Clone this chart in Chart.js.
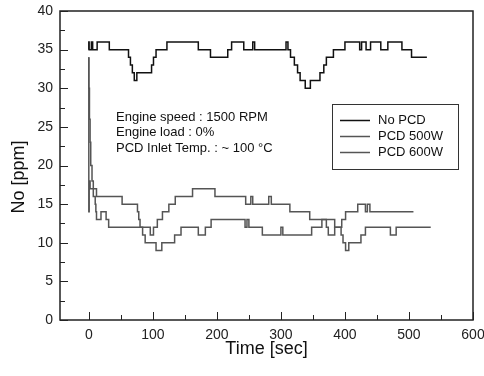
<!DOCTYPE html>
<html>
<head>
<meta charset="utf-8">
<script src="https://cdn.jsdelivr.net/npm/chart.js@4.4.0/dist/chart.umd.min.js"></script>
<style>
  html, body { margin: 0; padding: 0; background: #fff; }
  #wrap { width: 484px; height: 376px; }
</style>
</head>
<body>
<div id="wrap"><canvas id="noChart" width="484" height="376"></canvas></div>
<script>
// series (time in sec, NO in ppm, value holds until next time)
const seriesLabels = ['No PCD', 'PCD 500W', 'PCD 600W'];
const seriesColors = ['#111111', '#555555', '#555555'];

const noPcdTime = [0, 0.5, 4, 6, 13, 32, 62, 65, 68, 71, 75, 98, 101, 105, 122, 171, 190, 217, 223, 242, 256, 259,
  308, 311, 315, 321, 326, 330, 338, 346, 361, 367, 371, 382, 400, 423, 426, 433, 440, 456, 467, 489, 504, 528];
const noPcdValue = [35, 36, 35, 36, 35, 36, 35, 34, 33, 32, 31, 32, 33, 34, 35, 36, 35, 34, 35, 36, 35, 36,
  35, 36, 35, 34, 33, 32, 31, 30, 31, 32, 33, 34, 35, 36, 35, 36, 35, 36, 35, 36, 35, 34];

const pcd500Time = [0, 1, 2, 3, 5, 7, 10, 11, 12, 19, 27, 31, 96, 101, 107, 115, 125, 135, 162, 197, 245, 253, 256,
  281, 285, 314, 345, 371, 374, 384, 395, 401, 420, 432, 435, 439, 506, 507];
const pcd500Value = [34, 30, 26, 23, 20, 18, 16, 15, 14, 13, 14, 13, 12, 11, 12, 13, 14, 15, 16, 17, 16, 15, 16,
  15, 16, 15, 14, 13, 12, 11, 12, 13, 14, 15, 14, 15, 14, 14];

const pcd600Time = [0, 0.6, 2, 12, 52, 76, 78, 80, 84, 88, 105, 114, 134, 144, 171, 182, 191, 244, 247, 250, 271,
  300, 303, 348, 364, 384, 394, 397, 401, 406, 425, 432, 471, 480, 490, 534];
const pcd600Value = [34, 14, 18, 17, 16, 15, 14, 13, 12, 11, 10, 9, 10, 11, 12, 11, 12, 13, 12, 13, 12,
  11, 12, 11, 12, 13, 12, 11, 10, 9, 10, 11, 12, 11, 12, 12];

const xTickValues = [0, 100, 200, 300, 400, 500, 600];
const yTickValues = [0, 5, 10, 15, 20, 25, 30, 35, 40];
const notes = ['Engine speed : 1500 RPM', 'Engine load : 0%', 'PCD Inlet Temp. : ~ 100 \u00B0C'];

const FONT = "'Liberation Sans', Arial, sans-serif";

function toPoints(times, values) {
  return times.map((t, i) => ({ x: t, y: values[i] }));
}

// no extra label padding, so the plot box lands where the reference has it
function noPad(s) {
  s.paddingLeft = 0; s.paddingRight = 0; s.paddingTop = 0; s.paddingBottom = 0;
}

// frame, inward ticks, notes, legend box and y title
const framePlugin = {
  id: 'frame',
  afterDraw(chart) {
    const ctx = chart.ctx;
    const area = chart.chartArea;
    const xs = chart.scales.x;
    const ys = chart.scales.y;
    ctx.save();

    ctx.strokeStyle = '#222';
    ctx.lineWidth = 1.5;
    ctx.strokeRect(area.left, area.top, area.right - area.left, area.bottom - area.top);

    // ticks pointing inside
    ctx.lineWidth = 1;
    ctx.beginPath();
    for (let v = 0; v <= 600; v += 50) {
      const px = Math.round(xs.getPixelForValue(v)) + 0.5;
      const len = v % 100 === 0 ? 8 : 5;
      ctx.moveTo(px, area.bottom);
      ctx.lineTo(px, area.bottom - len);
    }
    for (let v = 0; v <= 40; v += 2.5) {
      const py = Math.round(ys.getPixelForValue(v)) + 0.5;
      const len = v % 5 === 0 ? 8 : 5;
      ctx.moveTo(area.left, py);
      ctx.lineTo(area.left + len, py);
    }
    ctx.stroke();

    // test conditions
    ctx.fillStyle = '#111';
    ctx.font = '13px ' + FONT;
    ctx.textAlign = 'left';
    ctx.textBaseline = 'middle';
    notes.forEach((n, i) => ctx.fillText(n, 116, 117 + i * 15.5));

    // legend box
    ctx.strokeStyle = '#333';
    ctx.lineWidth = 1;
    ctx.strokeRect(332.5, 104.5, 126, 65);
    chart.data.datasets.forEach((ds, i) => {
      const y = 120.5 + i * 16;
      ctx.strokeStyle = ds.borderColor;
      ctx.lineWidth = 1.5;
      ctx.beginPath();
      ctx.moveTo(340, y);
      ctx.lineTo(370, y);
      ctx.stroke();
      ctx.fillStyle = '#111';
      ctx.fillText(ds.label, 378, y);
    });

    // y axis title
    ctx.translate(19, 177);
    ctx.rotate(-Math.PI / 2);
    ctx.textAlign = 'center';
    ctx.font = '18px ' + FONT;
    ctx.fillText('No [ppm]', 0, 0);
    ctx.restore();
  }
};

const ctx = document.getElementById('noChart').getContext('2d');
const noChart = new Chart(ctx, {
  type: 'line',
  data: {
    datasets: [
      { label: seriesLabels[0], data: toPoints(noPcdTime, noPcdValue), borderColor: seriesColors[0] },
      { label: seriesLabels[1], data: toPoints(pcd500Time, pcd500Value), borderColor: seriesColors[1] },
      { label: seriesLabels[2], data: toPoints(pcd600Time, pcd600Value), borderColor: seriesColors[2] }
    ]
  },
  options: {
    responsive: false,
    animation: false,
    layout: { padding: { top: 11, right: 11, left: 0, bottom: 0 } },
    elements: {
      point: { radius: 0 },
      line: { borderWidth: 1.5, tension: 0, stepped: 'after', fill: false }
    },
    plugins: {
      legend: { display: false },
      tooltip: { enabled: false }
    },
    scales: {
      x: {
        type: 'linear',
        min: -45,
        max: 600,
        afterBuildTicks: (s) => { s.ticks = xTickValues.map(v => ({ value: v })); },
        afterFit: (s) => { s.height = 56; noPad(s); },
        grid: { display: false, drawTicks: false },
        border: { display: false },
        ticks: { color: '#222', font: { family: FONT, size: 14 }, padding: 7, maxRotation: 0, autoSkip: false },
        title: { display: true, text: 'Time [sec]', color: '#111', font: { family: FONT, size: 18 }, padding: { top: 0, bottom: 16 } }
      },
      y: {
        type: 'linear',
        min: 0,
        max: 40,
        afterBuildTicks: (s) => { s.ticks = yTickValues.map(v => ({ value: v })); },
        afterFit: (s) => { s.width = 60; noPad(s); },
        grid: { display: false, drawTicks: false },
        border: { display: false },
        ticks: { color: '#222', font: { family: FONT, size: 14 }, padding: 7 }
      }
    }
  },
  plugins: [framePlugin]
});
</script>
</body>
</html>
